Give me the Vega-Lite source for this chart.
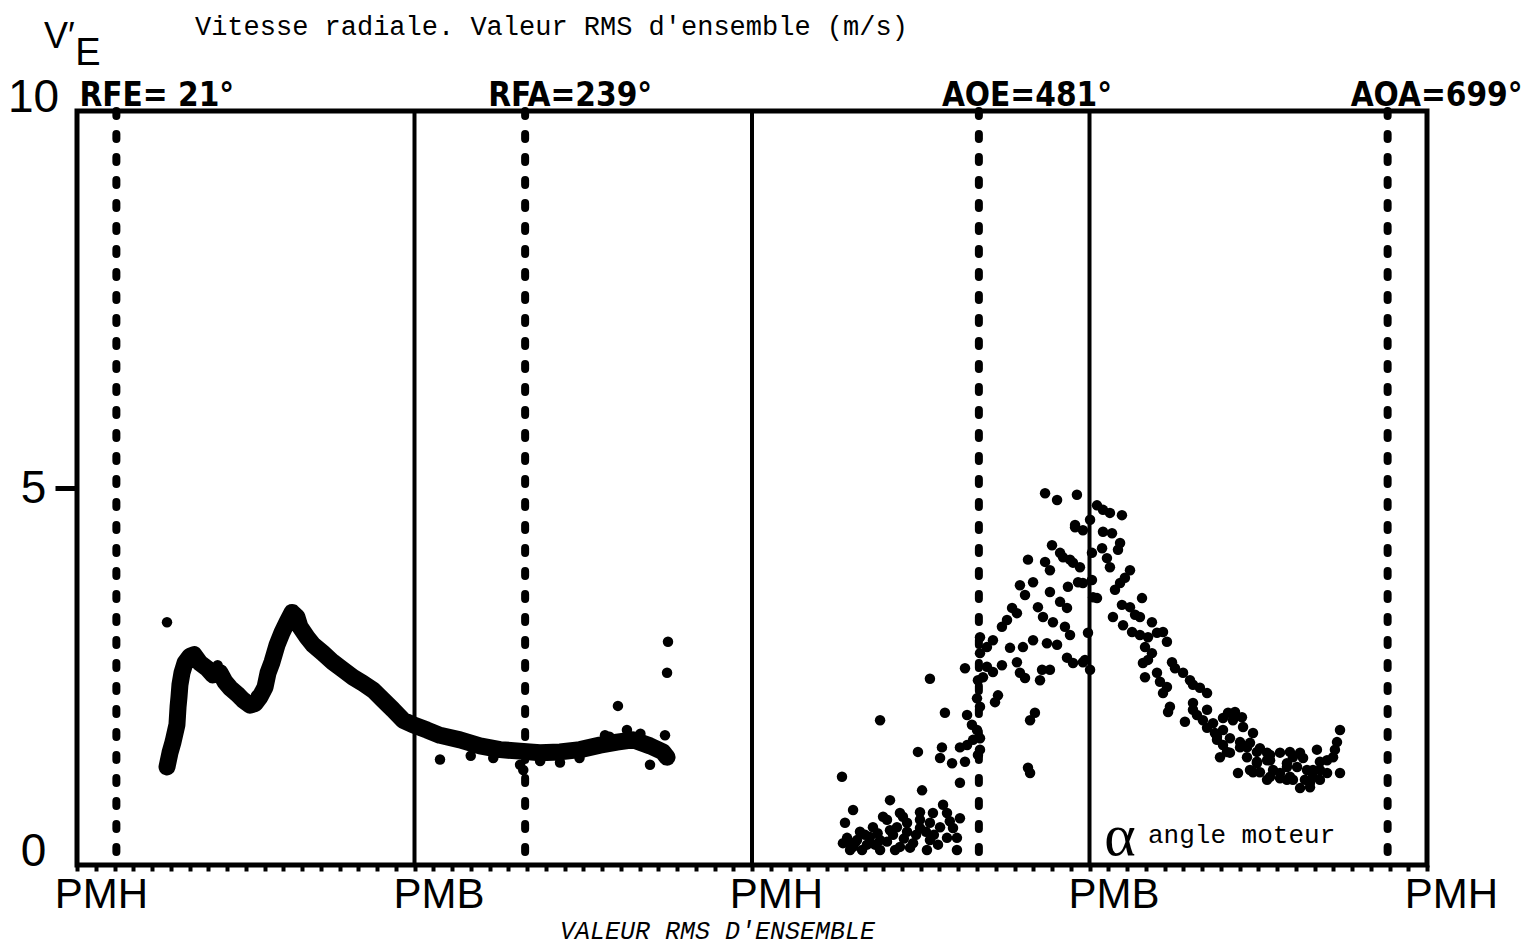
{
"$schema":"https://vega.github.io/schema/vega-lite/v6.json",
"width":1350,"height":754,
"autosize":{"type":"none"},
"padding":{"left":77,"top":111,"right":102,"bottom":85},
"background":"white",
"config":{
 "view":{"stroke":"black","strokeWidth":5},
 "axis":{"grid":false,"domain":false,"labelColor":"black","tickColor":"black","titleColor":"black","labelOverlap":false,"labelFlush":false},
 "axisX":{"labelFont":"Liberation Sans","labelFontSize":42,"labelAlign":"center","labelOffset":24,"labelPadding":3,"labelBaseline":"top","tickSize":6,"tickWidth":4,"titleFont":"Liberation Mono","titleFontStyle":"italic","titleFontWeight":"normal","titleFontSize":25,"titleX":640,"titleY":65,"titleBaseline":"middle","titleAlign":"center"},
 "axisY":{"labelFont":"Liberation Sans","labelFontSize":46,"labelAlign":"center","labelPadding":22,"tickSize":22,"tickWidth":5}
},
"datasets":{
"curve":[{"a":48.0,"v":1.30},{"a":49.6,"v":1.49},{"a":51.2,"v":1.63},{"a":53.3,"v":1.86},{"a":53.9,"v":2.10},{"a":54.4,"v":2.23},{"a":54.9,"v":2.39},{"a":56.0,"v":2.55},{"a":57.6,"v":2.68},{"a":60.3,"v":2.77},{"a":62.4,"v":2.79},{"a":65.6,"v":2.68},{"a":69.3,"v":2.61},{"a":72.5,"v":2.52},{"a":76.3,"v":2.55},{"a":78.9,"v":2.43},{"a":81.6,"v":2.35},{"a":85.3,"v":2.27},{"a":88.5,"v":2.19},{"a":92.3,"v":2.12},{"a":94.9,"v":2.14},{"a":97.6,"v":2.23},{"a":100.3,"v":2.36},{"a":101.9,"v":2.55},{"a":104.0,"v":2.69},{"a":106.7,"v":2.92},{"a":109.3,"v":3.08},{"a":112.0,"v":3.22},{"a":114.7,"v":3.35},{"a":117.3,"v":3.29},{"a":118.9,"v":3.16},{"a":122.7,"v":3.02},{"a":125.9,"v":2.92},{"a":131.2,"v":2.81},{"a":136.5,"v":2.69},{"a":141.9,"v":2.59},{"a":147.2,"v":2.49},{"a":152.5,"v":2.41},{"a":157.9,"v":2.32},{"a":163.2,"v":2.19},{"a":168.5,"v":2.06},{"a":173.9,"v":1.92},{"a":179.2,"v":1.86},{"a":186.7,"v":1.79},{"a":193.6,"v":1.72},{"a":204.3,"v":1.66},{"a":214.9,"v":1.58},{"a":225.6,"v":1.53},{"a":236.3,"v":1.51},{"a":246.9,"v":1.49},{"a":257.6,"v":1.50},{"a":268.3,"v":1.53},{"a":278.9,"v":1.59},{"a":288.0,"v":1.63},{"a":296.5,"v":1.66},{"a":305.6,"v":1.58},{"a":312.5,"v":1.50},{"a":314.7,"v":1.43}],
"dots":[{"a":48.0,"v":3.22},{"a":315.2,"v":2.96},{"a":314.7,"v":2.55},{"a":313.6,"v":1.72},{"a":288.5,"v":2.11},{"a":281.6,"v":1.72},{"a":293.3,"v":1.79},{"a":305.6,"v":1.33},{"a":193.6,"v":1.40},{"a":236.3,"v":1.33},{"a":238.0,"v":1.26},{"a":257.6,"v":1.36},{"a":300.5,"v":1.74},{"a":284.0,"v":1.70},{"a":75.0,"v":2.65},{"a":95.5,"v":2.25},{"a":120.5,"v":3.05},{"a":210.0,"v":1.45},{"a":222.0,"v":1.42},{"a":247.0,"v":1.38},{"a":268.0,"v":1.42},
{"a":516.3,"v":4.93},{"a":522.7,"v":4.84},{"a":533.3,"v":4.91},{"a":532.3,"v":4.48},{"a":520.0,"v":4.24},{"a":524.3,"v":4.14},{"a":529.6,"v":4.05},{"a":534.9,"v":3.95},{"a":507.2,"v":4.05},{"a":516.3,"v":4.02},{"a":518.9,"v":3.91},{"a":502.9,"v":3.71},{"a":509.9,"v":3.75},{"a":505.6,"v":3.58},{"a":518.9,"v":3.62},{"a":528.5,"v":3.69},{"a":533.9,"v":3.75},{"a":498.7,"v":3.41},{"a":501.3,"v":3.34},{"a":512.5,"v":3.42},{"a":524.3,"v":3.49},{"a":528.0,"v":3.41},{"a":493.3,"v":3.16},{"a":496.0,"v":3.25},{"a":488.5,"v":2.98},{"a":485.3,"v":2.89},{"a":481.6,"v":3.02},{"a":515.2,"v":3.29},{"a":520.5,"v":3.22},{"a":526.9,"v":3.16},{"a":529.6,"v":3.05},{"a":504.5,"v":2.89},{"a":497.6,"v":2.88},{"a":509.9,"v":2.98},{"a":517.3,"v":2.94},{"a":522.7,"v":2.92},{"a":528.0,"v":2.75},{"a":531.2,"v":2.68},{"a":481.6,"v":2.81},{"a":485.3,"v":2.63},{"a":493.3,"v":2.65},{"a":488.5,"v":2.56},{"a":473.6,"v":2.61},{"a":480.5,"v":2.45},{"a":483.2,"v":2.49},{"a":501.3,"v":2.69},{"a":502.9,"v":2.55},{"a":505.6,"v":2.48},{"a":514.7,"v":2.59},{"a":518.9,"v":2.59},{"a":513.6,"v":2.45},{"a":454.9,"v":2.47},{"a":491.2,"v":2.25},{"a":489.6,"v":2.16},{"a":480.0,"v":2.21},{"a":481.6,"v":2.10},{"a":510.9,"v":2.02},{"a":508.3,"v":1.92},{"a":428.3,"v":1.92},{"a":462.9,"v":2.02},{"a":474.7,"v":1.99},{"a":477.3,"v":1.86},{"a":480.0,"v":1.79},{"a":481.6,"v":1.68},{"a":477.9,"v":1.66},{"a":474.7,"v":1.59},{"a":470.9,"v":1.56},{"a":481.6,"v":1.53},{"a":480.5,"v":1.46},{"a":448.5,"v":1.50},{"a":461.3,"v":1.56},{"a":460.3,"v":1.42},{"a":466.7,"v":1.35},{"a":473.6,"v":1.37},{"a":507.2,"v":1.29},{"a":508.3,"v":1.22},{"a":408.0,"v":1.17},{"a":470.9,"v":1.09},{"a":450.7,"v":0.99},{"a":433.6,"v":0.86},{"a":413.9,"v":0.73},{"a":409.6,"v":0.56},
{"a":461.9,"v":0.80},{"a":464.0,"v":0.69},{"a":456.5,"v":0.69},{"a":449.6,"v":0.70},{"a":440.5,"v":0.64},{"a":432.0,"v":0.60},{"a":424.5,"v":0.50},{"a":417.6,"v":0.44},{"a":410.7,"v":0.36},{"a":408.5,"v":0.29},{"a":413.9,"v":0.24},{"a":421.3,"v":0.27},{"a":428.3,"v":0.33},{"a":435.2,"v":0.40},{"a":442.7,"v":0.44},{"a":449.6,"v":0.49},{"a":454.9,"v":0.56},{"a":460.3,"v":0.50},{"a":467.2,"v":0.49},{"a":469.3,"v":0.36},{"a":464.0,"v":0.36},{"a":454.9,"v":0.33},{"a":445.9,"v":0.29},{"a":438.9,"v":0.24},{"a":432.0,"v":0.31},{"a":422.9,"v":0.37},{"a":416.0,"v":0.33},{"a":442.7,"v":0.56},{"a":437.3,"v":0.50},{"a":449.6,"v":0.60},{"a":438.9,"v":0.69},{"a":429.9,"v":0.64},{"a":469.3,"v":0.20},{"a":453.3,"v":0.20},{"a":428.3,"v":0.20},{"a":412.3,"v":0.20},{"a":470.9,"v":0.62},{"a":412.3,"v":0.27},{"a":418.7,"v":0.20},{"a":425.6,"v":0.27},{"a":436.3,"v":0.20},{"a":444.3,"v":0.23},{"a":459.2,"v":0.27},{"a":420.3,"v":0.40},{"a":433.6,"v":0.46},{"a":447.5,"v":0.40},{"a":452.8,"v":0.44},{"a":415.0,"v":0.30},{"a":427.0,"v":0.42},{"a":441.0,"v":0.35},{"a":457.0,"v":0.40},{"a":465.5,"v":0.58},
{"a":540.3,"v":4.58},{"a":536.5,"v":4.44},{"a":541.3,"v":4.14},{"a":541.3,"v":3.78},{"a":536.5,"v":3.74},{"a":541.9,"v":3.55},{"a":539.2,"v":3.08},{"a":537.6,"v":2.72},{"a":540.3,"v":2.59},
{"a":544.0,"v":4.77},{"a":547.2,"v":4.71},{"a":550.9,"v":4.67},{"a":557.3,"v":4.64},{"a":532.3,"v":4.51},{"a":547.2,"v":4.42},{"a":552.0,"v":4.40},{"a":546.7,"v":4.20},{"a":549.3,"v":4.07},{"a":550.9,"v":3.95},{"a":556.3,"v":4.27},{"a":555.2,"v":4.18},{"a":525.9,"v":4.08},{"a":531.2,"v":4.01},{"a":561.6,"v":3.91},{"a":558.9,"v":3.81},{"a":556.3,"v":3.74},{"a":553.6,"v":3.65},{"a":544.0,"v":3.54},{"a":568.0,"v":3.54},{"a":557.3,"v":3.45},{"a":561.6,"v":3.42},{"a":552.5,"v":3.29},{"a":564.3,"v":3.32},{"a":566.9,"v":3.29},{"a":573.3,"v":3.22},{"a":557.9,"v":3.18},{"a":562.7,"v":3.09},{"a":566.9,"v":3.05},{"a":571.2,"v":3.02},{"a":576.0,"v":3.08},{"a":579.2,"v":3.09},{"a":581.3,"v":2.96},{"a":569.6,"v":2.89},{"a":573.3,"v":2.81},{"a":571.2,"v":2.72},{"a":568.5,"v":2.68},{"a":569.6,"v":2.49},{"a":576.0,"v":2.55},{"a":577.6,"v":2.43},{"a":581.3,"v":2.36},{"a":579.2,"v":2.28},{"a":536.5,"v":2.69},{"a":584.0,"v":2.69},{"a":585.6,"v":2.61},{"a":589.9,"v":2.55},{"a":593.6,"v":2.45},{"a":595.2,"v":2.39},{"a":598.9,"v":2.35},{"a":602.7,"v":2.28},{"a":582.9,"v":2.10},{"a":581.9,"v":2.03},{"a":590.9,"v":1.90},{"a":595.2,"v":2.06},{"a":597.3,"v":1.99},{"a":600.5,"v":1.92},{"a":602.7,"v":1.82},{"a":606.9,"v":1.75},{"a":611.2,"v":1.95},{"a":613.9,"v":2.02},{"a":616.5,"v":1.92},{"a":621.3,"v":1.96},{"a":621.9,"v":1.83},{"a":627.2,"v":1.75},{"a":608.0,"v":1.66},{"a":611.2,"v":1.59},{"a":609.6,"v":1.43},{"a":614.9,"v":1.49},{"a":620.3,"v":1.56},{"a":625.6,"v":1.62},{"a":630.9,"v":1.55},{"a":634.7,"v":1.49},{"a":624.0,"v":1.43},{"a":629.3,"v":1.37},{"a":636.3,"v":1.39},{"a":619.2,"v":1.22},{"a":625.6,"v":1.26},{"a":630.9,"v":1.23},{"a":637.9,"v":1.26},{"a":641.6,"v":1.22},{"a":645.3,"v":1.30},{"a":648.5,"v":1.43},{"a":652.3,"v":1.49},{"a":656.0,"v":1.26},{"a":659.2,"v":1.17},
{"a":595.2,"v":2.15},{"a":602.7,"v":2.06},{"a":605.9,"v":1.88},{"a":617.6,"v":2.03},{"a":611.2,"v":1.79},{"a":608.0,"v":1.70},{"a":614.9,"v":1.68},{"a":620.3,"v":1.63},{"a":613.3,"v":1.50},{"a":624.0,"v":1.56},{"a":629.3,"v":1.50},{"a":636.3,"v":1.46},{"a":641.6,"v":1.49},{"a":646.9,"v":1.50},{"a":661.3,"v":1.53},{"a":653.9,"v":1.42},{"a":629.3,"v":1.35},{"a":634.7,"v":1.39},{"a":645.3,"v":1.35},{"a":650.7,"v":1.30},{"a":662.9,"v":1.37},{"a":666.7,"v":1.39},{"a":669.9,"v":1.43},{"a":627.2,"v":1.23},{"a":636.3,"v":1.17},{"a":641.6,"v":1.15},{"a":652.3,"v":1.02},{"a":657.6,"v":1.03},{"a":662.9,"v":1.13},{"a":666.7,"v":1.22},{"a":673.6,"v":1.22},{"a":673.6,"v":1.79},{"a":672.0,"v":1.63},{"a":670.9,"v":1.53},{"a":659.2,"v":1.26},{"a":646.9,"v":1.17},{"a":648.5,"v":1.13},{"a":645.3,"v":1.13},{"a":634.7,"v":1.13},{"a":657.6,"v":1.09},{"a":654.9,"v":1.13},{"a":662.9,"v":1.26}],
"pm":[{"a":180},{"a":360},{"a":540}],
"events":[{"a":21,"label":"RFE= 21°"},{"a":239,"label":"RFA=239°"},{"a":481,"label":"AOE=481°"},{"a":699,"label":"AOA=699°"}],
"heading":[{"a":62.9,"v":11.11,"t":"Vitesse radiale. Valeur RMS d'ensemble (m/s)"}],
"vsym":[{"a":-17.6,"v":10.83,"t":"V′"}],
"esym":[{"a":-1.0,"v":10.61,"t":"E"}],
"alpha":[{"a":556.3,"v":0.13,"t":"α"}],
"moteur":[{"a":571.2,"v":0.29,"t":"angle moteur"}]
},
"layer":[
{"data":{"name":"curve"},
 "mark":{"type":"line","color":"black","strokeWidth":17,"strokeJoin":"round","strokeCap":"round"},
 "encoding":{
  "x":{"field":"a","type":"quantitative","scale":{"domain":[0,720],"nice":false,"zero":false},"axis":{"tickCount":72,"labelExpr":"datum.value==180||datum.value==540?'PMB':(datum.value==0||datum.value==360||datum.value==720?'PMH':'')","title":"VALEUR RMS D'ENSEMBLE"}},
  "y":{"field":"v","type":"quantitative","scale":{"domain":[0,10],"nice":false,"zero":false},"axis":{"values":[0,5,10],"format":"d","title":null,"labelBaseline":{"condition":{"test":"datum.value==5","value":"middle"},"value":"alphabetic"},"tickOpacity":{"condition":{"test":"datum.value==5","value":1},"value":0}}}
 }},
{"data":{"name":"pm"},"mark":{"type":"rule","color":"black","strokeWidth":4},
 "encoding":{
  "x":{"field":"a","type":"quantitative","scale":{"domain":[0,720],"nice":false,"zero":false},"axis":{"tickCount":72,"labelExpr":"datum.value==180||datum.value==540?'PMB':(datum.value==0||datum.value==360||datum.value==720?'PMH':'')","title":"VALEUR RMS D'ENSEMBLE"}}
 }},
{"data":{"name":"events"},"mark":{"type":"rule","color":"black","strokeWidth":8,"strokeDash":[5,18],"strokeCap":"round"},
 "encoding":{
  "x":{"field":"a","type":"quantitative","scale":{"domain":[0,720],"nice":false,"zero":false},"axis":{"tickCount":72,"labelExpr":"datum.value==180||datum.value==540?'PMB':(datum.value==0||datum.value==360||datum.value==720?'PMH':'')","title":"VALEUR RMS D'ENSEMBLE"}}
 }},
{"data":{"name":"events"},"mark":{"type":"text","font":"DejaVu Sans Condensed","fontWeight":"bold","fontSize":33,"align":"left","baseline":"alphabetic","dx":-37,"dy":-5,"color":"black"},
 "encoding":{
  "x":{"field":"a","type":"quantitative","scale":{"domain":[0,720],"nice":false,"zero":false},"axis":{"tickCount":72,"labelExpr":"datum.value==180||datum.value==540?'PMB':(datum.value==0||datum.value==360||datum.value==720?'PMH':'')","title":"VALEUR RMS D'ENSEMBLE"}},
  "y":{"datum":10,"type":"quantitative","scale":{"domain":[0,10],"nice":false,"zero":false},"axis":{"values":[0,5,10],"format":"d","title":null,"labelBaseline":{"condition":{"test":"datum.value==5","value":"middle"},"value":"alphabetic"},"tickOpacity":{"condition":{"test":"datum.value==5","value":1},"value":0}}},
  "text":{"field":"label"}
 }},
{"data":{"name":"dots"},"mark":{"type":"circle","color":"black","size":110,"opacity":1},
 "encoding":{
  "x":{"field":"a","type":"quantitative","scale":{"domain":[0,720],"nice":false,"zero":false},"axis":{"tickCount":72,"labelExpr":"datum.value==180||datum.value==540?'PMB':(datum.value==0||datum.value==360||datum.value==720?'PMH':'')","title":"VALEUR RMS D'ENSEMBLE"}},
  "y":{"field":"v","type":"quantitative","scale":{"domain":[0,10],"nice":false,"zero":false},"axis":{"values":[0,5,10],"format":"d","title":null,"labelBaseline":{"condition":{"test":"datum.value==5","value":"middle"},"value":"alphabetic"},"tickOpacity":{"condition":{"test":"datum.value==5","value":1},"value":0}}}
 }},
{"data":{"name":"heading"},"mark":{"type":"text","font":"Liberation Mono","fontSize":27,"align":"left","baseline":"middle","color":"black"},
 "encoding":{
  "x":{"field":"a","type":"quantitative","scale":{"domain":[0,720],"nice":false,"zero":false},"axis":{"tickCount":72,"labelExpr":"datum.value==180||datum.value==540?'PMB':(datum.value==0||datum.value==360||datum.value==720?'PMH':'')","title":"VALEUR RMS D'ENSEMBLE"}},
  "y":{"field":"v","type":"quantitative","scale":{"domain":[0,10],"nice":false,"zero":false},"axis":{"values":[0,5,10],"format":"d","title":null,"labelBaseline":{"condition":{"test":"datum.value==5","value":"middle"},"value":"alphabetic"},"tickOpacity":{"condition":{"test":"datum.value==5","value":1},"value":0}}},
  "text":{"field":"t"}
 }},
{"data":{"name":"vsym"},"mark":{"type":"text","font":"Liberation Sans","fontSize":36,"align":"left","baseline":"alphabetic","color":"black"},
 "encoding":{
  "x":{"field":"a","type":"quantitative","scale":{"domain":[0,720],"nice":false,"zero":false},"axis":{"tickCount":72,"labelExpr":"datum.value==180||datum.value==540?'PMB':(datum.value==0||datum.value==360||datum.value==720?'PMH':'')","title":"VALEUR RMS D'ENSEMBLE"}},
  "y":{"field":"v","type":"quantitative","scale":{"domain":[0,10],"nice":false,"zero":false},"axis":{"values":[0,5,10],"format":"d","title":null,"labelBaseline":{"condition":{"test":"datum.value==5","value":"middle"},"value":"alphabetic"},"tickOpacity":{"condition":{"test":"datum.value==5","value":1},"value":0}}},
  "text":{"field":"t"}
 }},
{"data":{"name":"esym"},"mark":{"type":"text","font":"Liberation Sans","fontSize":38,"align":"left","baseline":"alphabetic","color":"black"},
 "encoding":{
  "x":{"field":"a","type":"quantitative","scale":{"domain":[0,720],"nice":false,"zero":false},"axis":{"tickCount":72,"labelExpr":"datum.value==180||datum.value==540?'PMB':(datum.value==0||datum.value==360||datum.value==720?'PMH':'')","title":"VALEUR RMS D'ENSEMBLE"}},
  "y":{"field":"v","type":"quantitative","scale":{"domain":[0,10],"nice":false,"zero":false},"axis":{"values":[0,5,10],"format":"d","title":null,"labelBaseline":{"condition":{"test":"datum.value==5","value":"middle"},"value":"alphabetic"},"tickOpacity":{"condition":{"test":"datum.value==5","value":1},"value":0}}},
  "text":{"field":"t"}
 }},
{"data":{"name":"alpha"},"mark":{"type":"text","font":"Liberation Serif","fontSize":60,"align":"center","baseline":"alphabetic","color":"black"},
 "encoding":{
  "x":{"field":"a","type":"quantitative","scale":{"domain":[0,720],"nice":false,"zero":false},"axis":{"tickCount":72,"labelExpr":"datum.value==180||datum.value==540?'PMB':(datum.value==0||datum.value==360||datum.value==720?'PMH':'')","title":"VALEUR RMS D'ENSEMBLE"}},
  "y":{"field":"v","type":"quantitative","scale":{"domain":[0,10],"nice":false,"zero":false},"axis":{"values":[0,5,10],"format":"d","title":null,"labelBaseline":{"condition":{"test":"datum.value==5","value":"middle"},"value":"alphabetic"},"tickOpacity":{"condition":{"test":"datum.value==5","value":1},"value":0}}},
  "text":{"field":"t"}
 }},
{"data":{"name":"moteur"},"mark":{"type":"text","font":"Liberation Mono","fontSize":26,"align":"left","baseline":"alphabetic","color":"black"},
 "encoding":{
  "x":{"field":"a","type":"quantitative","scale":{"domain":[0,720],"nice":false,"zero":false},"axis":{"tickCount":72,"labelExpr":"datum.value==180||datum.value==540?'PMB':(datum.value==0||datum.value==360||datum.value==720?'PMH':'')","title":"VALEUR RMS D'ENSEMBLE"}},
  "y":{"field":"v","type":"quantitative","scale":{"domain":[0,10],"nice":false,"zero":false},"axis":{"values":[0,5,10],"format":"d","title":null,"labelBaseline":{"condition":{"test":"datum.value==5","value":"middle"},"value":"alphabetic"},"tickOpacity":{"condition":{"test":"datum.value==5","value":1},"value":0}}},
  "text":{"field":"t"}
 }}
]
}
